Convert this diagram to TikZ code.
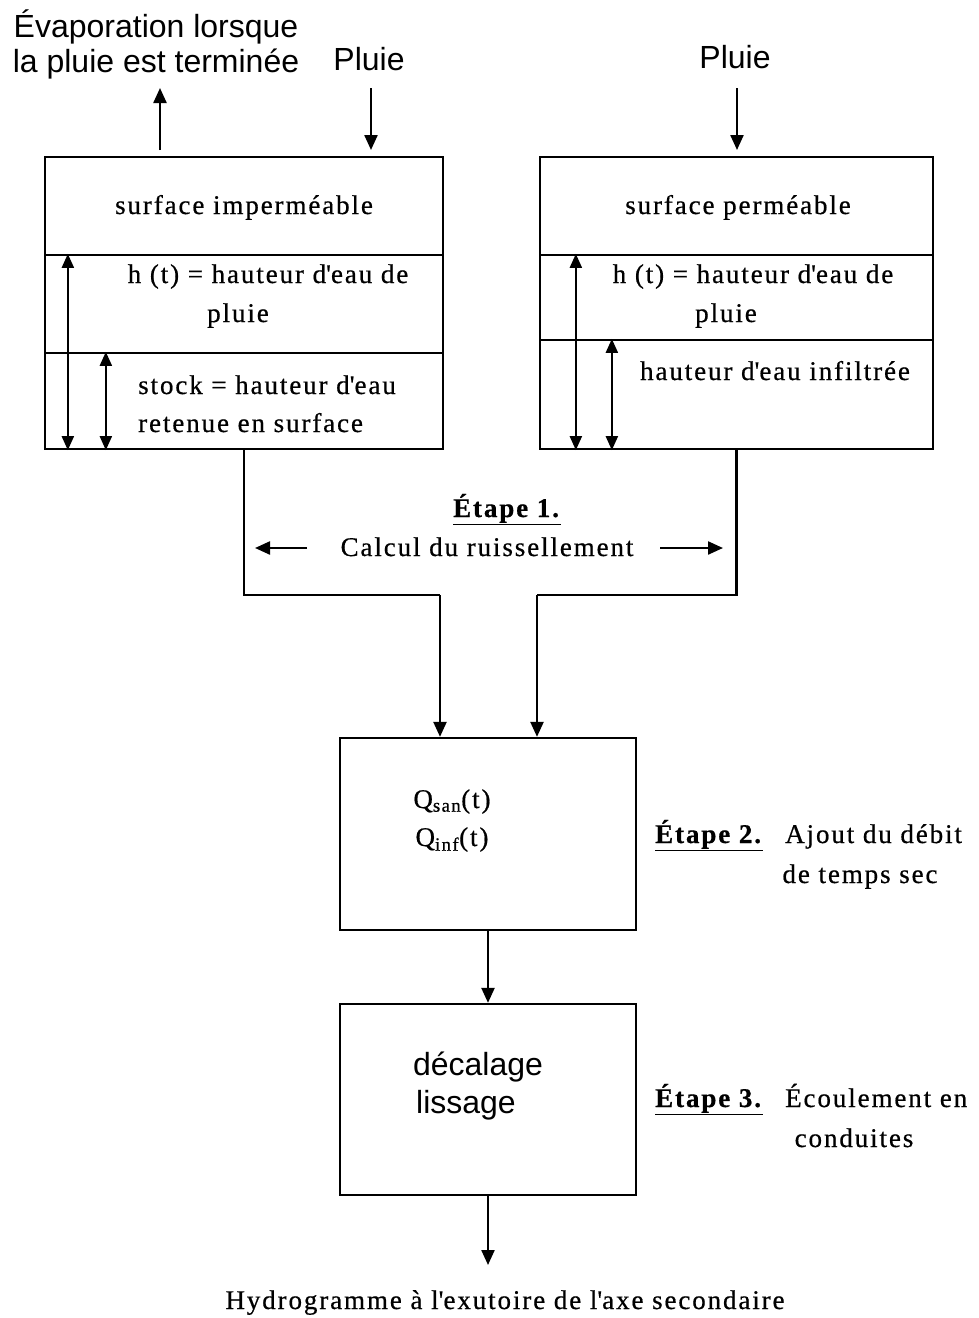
\documentclass[tikz,border=0pt]{standalone}
\usepackage{fontspec}
\setmainfont{Liberation Serif}[LetterSpace=7,FakeBold=0.6]
\newfontfamily\arialf{Liberation Sans}
\usetikzlibrary{arrows.meta,calc}
\newcommand{\ap}{\textquotesingle}
\begin{document}
\begin{tikzpicture}[x=1pt,y=-1pt,
  box/.style={draw,line width=2.3pt,inner sep=0pt,rectangle},
  arr/.style={line width=2.3pt,-{Triangle[width=13pt,length=15pt]}},
  dbl/.style={line width=2.1pt,{Triangle[width=12pt,length=14pt]}-{Triangle[width=12pt,length=14pt]}},
  txt/.style={font=\fontsize{27}{31}\selectfont,inner sep=0pt,anchor=base},
  stxt/.style={font=\arialf\fontsize{32}{36}\selectfont,inner sep=0pt,anchor=base}]
\useasboundingbox (0,0) rectangle (978,1318);
% left column
\node[box,minimum width=398pt,minimum height=98pt] (imp1) at (244,206) {};
\node[box,minimum width=398pt,minimum height=98pt] (imp2) at (244,304) {};
\node[box,minimum width=398pt,minimum height=96pt] (imp3) at (244,401) {};
% right column
\node[box,minimum width=393pt,minimum height=98pt] (per1) at (736.5,206) {};
\node[box,minimum width=393pt,minimum height=85pt] (per2) at (736.5,297.5) {};
\node[box,minimum width=393pt,minimum height=109pt] (per3) at (736.5,394.5) {};
% lower boxes
\node[box,minimum width=296pt,minimum height=192pt] (q) at (488,834) {};
\node[box,minimum width=296pt,minimum height=191pt] (dl) at (488,1099.5) {};
% texts
\node[stxt] (evap1) at (156,37) {Évaporation lorsque};
\node[stxt] (evap2) at (156,72) {la pluie est terminée};
\node[stxt] (pluieL) at (369,70) {Pluie};
\node[stxt] (pluieR) at (735,68) {Pluie};
\node[txt] (timp) at (244,214) {surface imperméable};
\node[txt] (timp2a) at (268,283) {h (t) = hauteur d\ap eau de};
\node[txt] (timp2b) at (238,322) {pluie};
\node[txt,anchor=base west] (timp3a) at (138,394) {stock = hauteur d\ap eau};
\node[txt,anchor=base west] (timp3b) at (138,432) {retenue en surface};
\node[txt] (tper) at (738,214) {surface perméable};
\node[txt] (tper2a) at (753,283) {h (t) = hauteur d\ap eau de};
\node[txt] (tper2b) at (726,322) {pluie};
\node[txt] (tper3) at (775,380) {hauteur d\ap eau infiltrée};
\node[txt] (e1) at (507,517) {\underline{\textbf{Étape 1.}}};
\node[txt] (calc) at (487,556) {Calcul du ruissellement};
\node[txt] (qs) at (452,808) {Q\textsubscript{san}(t)};
\node[txt] (qi) at (452,846) {Q\textsubscript{inf}(t)};
\node[txt,anchor=base west] (e2) at (655,843) {\underline{\textbf{Étape 2.}}};
\node[txt,anchor=base west] (e2a) at (785,843) {Ajout du débit};
\node[txt] (e2b) at (860,883) {de temps sec};
\node[stxt] (dec) at (478,1075) {décalage};
\node[stxt] (lis) at (466,1113) {lissage};
\node[txt,anchor=base west] (e3) at (655,1107) {\underline{\textbf{Étape 3.}}};
\node[txt,anchor=base west] (e3a) at (785,1107) {Écoulement en};
\node[txt] (e3b) at (854,1147) {conduites};
\node[txt] (hyd) at (505,1309) {Hydrogramme à l\ap exutoire de l\ap axe secondaire};
% coordinates
\coordinate (evb) at (160,150);
\coordinate (evt) at (160,88);
\coordinate (plt) at (371,88);
\coordinate (plb) at (371,150);
\coordinate (prt) at (737,88);
\coordinate (prb) at (737,150);
\coordinate (jl) at (440,595);
\coordinate (jr) at (537,595);
\coordinate (cl1) at (307,548);
\coordinate (cl2) at (255,548);
\coordinate (cr1) at (660,548);
\coordinate (cr2) at (723,548);
\coordinate (out) at (488,1265);
% connectors
\draw[arr] (evb) -- (evt);
\draw[arr] (plt) -- (plb);
\draw[arr] (prt) -- (prb);
\draw[dbl] ([xshift=24pt]imp2.north west) -- ([xshift=24pt]imp3.south west);
\draw[dbl] ([xshift=62pt]imp3.north west) -- ([xshift=62pt]imp3.south west);
\draw[dbl] ([xshift=37pt]per2.north west) -- ([xshift=37pt]per3.south west);
\draw[dbl] ([xshift=73pt]per3.north west) -- ([xshift=73pt]per3.south west);
\draw[line width=2.3pt] (imp3.south) |- (jl);
\draw[arr] (jl) -- (jl |- q.north);
\draw[line width=2.3pt] (per3.south) |- (jr);
\draw[arr] (jr) -- (jr |- q.north);
\draw[arr] (cl1) -- (cl2);
\draw[arr] (cr1) -- (cr2);
\draw[arr] (q.south) -- (dl.north);
\draw[arr] (dl.south) -- (out);
\end{tikzpicture}
\end{document}
